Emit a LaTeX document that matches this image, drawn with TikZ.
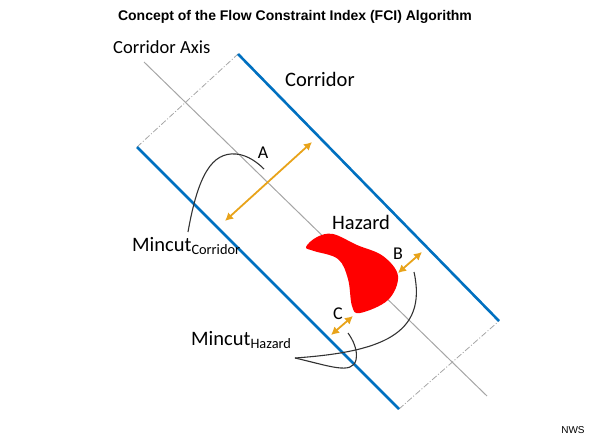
\documentclass[tikz,border=0pt]{standalone}
\usepackage{fontspec}
\setmainfont{Carlito}
\newfontfamily\arialfont{Liberation Sans}
\usetikzlibrary{arrows.meta}
\definecolor{corrblue}{HTML}{0070C0}
\definecolor{arrorange}{HTML}{E8A31A}
\definecolor{axisgray}{HTML}{A6A6A6}
\definecolor{hazred}{HTML}{FF0000}
\tikzset{
  corredge/.style={draw=corrblue, line width=2.6pt},
  endcap/.style={draw=axisgray, line width=0.8pt, dash pattern=on 6pt off 2pt on 1pt off 2pt},
  axisline/.style={draw=axisgray, line width=1pt},
  cutcurve/.style={draw=black!80, line width=1.1pt},
  widtharrow/.style={draw=arrorange, line width=1.8pt, {Latex[length=8pt,width=8.5pt]}-{Latex[length=8pt,width=8.5pt]}},
  lbl/.style={font=\fontsize{18.5}{20}\selectfont, inner sep=0pt},
  letlbl/.style={font=\fontsize{18}{20}\selectfont, inner sep=0pt},
  biglbl/.style={font=\fontsize{20.5}{22}\selectfont, inner sep=0pt}
}
\begin{document}
\begin{tikzpicture}[x=1pt,y=-1pt]
\useasboundingbox (0,0) rectangle (590,440);
% corridor corners
\coordinate (TL) at (137,147);
\coordinate (TR) at (238,54);
\coordinate (BL) at (399,409);
\coordinate (BR) at (499,321);
\coordinate (AxS) at (144,62);
\coordinate (AxE) at (487,396);
% axis
\draw[axisline] (AxS) -- (AxE);
% end caps
\draw[endcap] (TL) -- (TR);
\draw[endcap] (BL) -- (BR);
% corridor edges
\draw[corredge] (TL) -- (BL);
\draw[corredge] (TR) -- (BR);
% hazard
\fill[hazred] plot[smooth cycle, tension=0.6] coordinates {(306,247) (317,237) (333,234) (357,245) (383,256) (398,276) (388,300) (360,313) (352,306) (348,279) (338,259) (314,251)};
% arrows
\coordinate (A1) at (225,221);
\coordinate (A2) at (312,142);
\coordinate (B1) at (398,273);
\coordinate (B2) at (422,252);
\coordinate (C1) at (331,335);
\coordinate (C2) at (353,316);
\draw[widtharrow] (A1) -- (A2);
\draw[widtharrow] (B1) -- (B2);
\draw[widtharrow] (C1) -- (C2);
% curves
\coordinate (mc1) at (188,232);
\coordinate (mc2) at (264,169);
\draw[cutcurve] (mc1) .. controls (198,175) and (212,152) .. (236,154) .. controls (248,155) and (258,163) .. (mc2);
\coordinate (mh0) at (295,358);
\coordinate (mhB) at (414,272);
\coordinate (mhC) at (348,333);
\draw[cutcurve] (mh0) .. controls (380,352) and (428,335) .. (mhB);
\draw[cutcurve] (mh0) .. controls (330,366) and (352,375) .. (356,360) .. controls (358,350) and (353,340) .. (mhC);
% labels
\node[font=\arialfont\bfseries\fontsize{14}{16}\selectfont] (title) at (295,17) {Concept of the Flow Constraint Index (FCI) Algorithm};
\node[lbl, anchor=west] (axlbl) at (113,47) {Corridor Axis};
\node[biglbl, anchor=west] (corlbl) at (285,79) {Corridor};
\node[letlbl] (Albl) at (263,153) {A};
\node[letlbl] (Blbl) at (398,254) {B};
\node[letlbl] (Clbl) at (338,314) {C};
\node[biglbl, anchor=west] (hazlbl) at (332,222) {Hazard};
\node[biglbl, anchor=west] (mclbl) at (132,246) {Mincut\textsubscript{Corridor}};
\node[biglbl, anchor=west] (mhlbl) at (191,340) {Mincut\textsubscript{Hazard}};
\node[font=\arialfont\fontsize{10}{12}\selectfont] (nws) at (573,430) {NWS};
\end{tikzpicture}
\end{document}
